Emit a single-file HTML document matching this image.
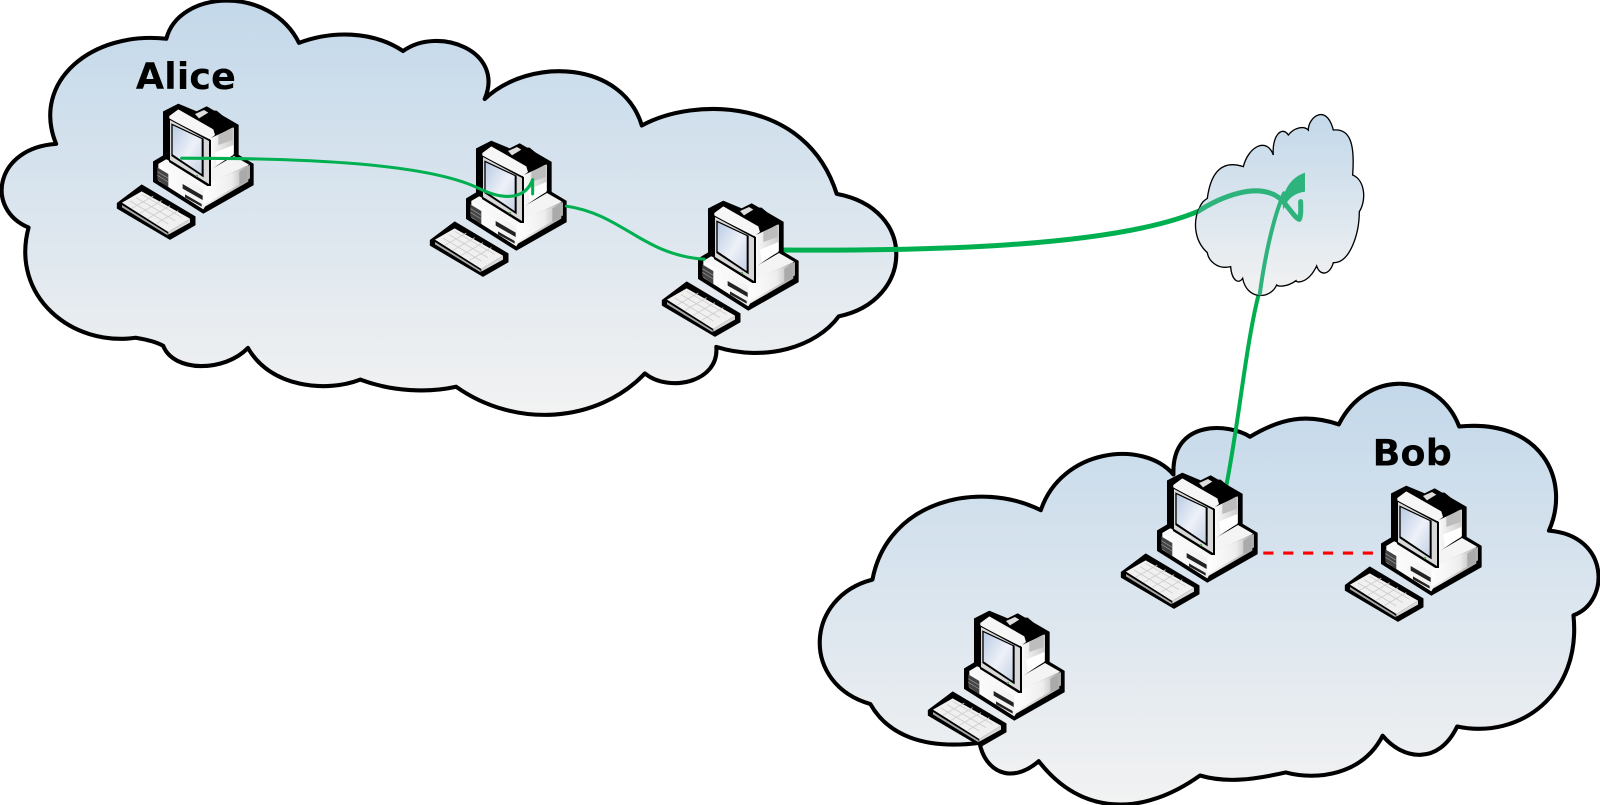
<!DOCTYPE html>
<html><head><meta charset="utf-8"><style>
html,body{margin:0;padding:0;background:#fff;width:1600px;height:805px;overflow:hidden}
svg{display:block}
</style></head><body>
<svg width="1600" height="805" viewBox="0 0 1600 805" xmlns="http://www.w3.org/2000/svg">
<defs>
<linearGradient id="a" x1="0" y1="0" x2="0" y2="1"><stop offset="0" stop-color="#c3d8ea"/><stop offset="1" stop-color="#f2f2f2"/></linearGradient>
<linearGradient id="scr" x1="0" y1="0" x2="1" y2="1"><stop offset="0" stop-color="#b9cbe4"/><stop offset=".55" stop-color="#eef1f8"/><stop offset="1" stop-color="#c5d2e6"/></linearGradient>
<linearGradient id="tw" x1="0" y1="0" x2="1" y2="0"><stop offset="0" stop-color="#fff"/><stop offset="1" stop-color="#ccc"/></linearGradient>
<linearGradient id="bs" x1="0" y1="0" x2="1" y2="0"><stop offset="0" stop-color="#fff"/><stop offset=".6" stop-color="#eee"/><stop offset="1" stop-color="#a8a8a8"/></linearGradient>
<path id="sc" d="M118 325C125 305 135 300 142 295C150 235 175 175 250 200C265 140 320 110 340 165C335 110 365 75 385 105C400 85 430 75 445 90C445 50 500 10 520 90C570 85 585 130 578 225C615 240 620 300 598 335C598 400 570 490 520 488C510 525 480 530 470 498C445 550 410 550 408 542C380 562 355 560 350 555C330 600 260 600 248 535C235 555 215 540 212 500C170 510 145 480 142 458C100 420 100 360 118 325Z"/>
<clipPath id="cc"><use href="#sc"/></clipPath>
<g id="pc" transform="scale(.3333)">
<!-- keyboard -->
<path d="M52 340L125 285L285 380V405L210 448L52 355Z" fill="#000" stroke="#000" stroke-width="3" stroke-linejoin="round"/>
<path d="M66 338L125 304L270 386L205 426Z" fill="#f0f0f0"/>
<path d="M66 345L203 430L203 436L66 352Z" fill="#aaa"/>
<path d="M205 426L270 386V398L205 434Z" fill="#d8d8d8"/>
<path d="M90 333L205 402M108 323L225 392M125 313L245 382M95 355L160 318M120 370L185 332M145 385L210 347M170 400L235 362" stroke="#ccc" stroke-width="2.5" fill="none"/>
<!-- silhouette -->
<path d="M190 65L235 42L290 65L320 50L415 105V195L460 222V285L310 370L160 275V215L190 197Z" fill="#000" stroke="#000" stroke-width="2" stroke-linejoin="round"/>
<!-- base -->
<path d="M175 222L200 208L318 283L445 222V275L315 350L310 358L175 272Z" fill="url(#bs)"/>
<path d="M175 222L198 208L318 280L310 298Z" fill="#f8f8f8"/>
<path d="M172 232L205 252V292L172 268Z" fill="#444"/>
<path d="M172 245L205 265M172 256L205 276" stroke="#999" stroke-width="2"/>
<path d="M310 298V345L450 265V225L320 282Z" fill="url(#bs)"/>
<path d="M322 245L402 198L447 224L318 284Z" fill="#f4f4f4"/>
<path d="M248 282L308 317V330L248 296ZM255 313L305 342V350L255 322Z" fill="#222"/>
<path d="M418 245L442 230V272L418 285Z" fill="#aaa"/>
<!-- tower -->
<path d="M330 145L402 112V192L325 245Z" fill="url(#tw)"/>
<path d="M355 135L398 112V150L355 165Z" fill="#bdbdbd"/>
<path d="M345 188L400 165V195L350 225Z" fill="#fff"/>
<path d="M315 62L350 62L405 108L345 130L300 90Z" fill="#000"/>
<path d="M208 78L235 58L340 118L345 135L325 150L208 85Z" fill="#f6f6f6"/>
<path d="M285 72L312 60L325 68L297 85Z" fill="#ddd"/>
<!-- monitor -->
<path d="M207 86L333 150V288H322L207 216Z" fill="#000"/>
<path d="M210 90L327 153V282L210 210Z" fill="#d8d8d8"/>
<path d="M214 100L311 146V262L214 198Z" fill="#000"/>
<path d="M218 106L305 147V252L218 193Z" fill="url(#scr)"/>
<circle cx="291" cy="258" r="3.5" fill="#5a9e5a"/>
</g>
</defs>
<rect width="1600" height="805" fill="#fff"/>
<g transform="scale(1.0204)">
<path d="M293 42C265 -15 175 -10 163 38C90 30 30 80 55 141C-5 145 -15 205 28 223C10 290 70 340 133 331C145 333 155 336 160 339C170 365 220 365 243 341C265 380 320 385 353 372C385 384 420 385 447 379C505 420 585 415 632 366C655 385 705 375 702 340C750 355 800 340 822 310C895 295 900 205 820 190C790 95 680 95 629 123C610 60 520 55 475 97C495 50 430 25 395 50C365 30 325 30 293 42Z" fill="url(#a)" stroke="#000" stroke-width="4" stroke-linejoin="round"/>
<path d="M1225 428C1205 415 1148 410 1150 465C1120 430 1040 440 1020 500C960 470 870 490 855 568C789 585 784 670 853 690C870 720 905 735 960 728C965 755 990 770 1018 746C1060 800 1120 800 1176 760C1200 767 1225 765 1260 757C1290 765 1335 760 1355 721C1375 745 1410 750 1428 712C1490 725 1550 680 1542 603C1578 590 1578 525 1518 520C1540 470 1510 410 1430 418C1410 365 1340 360 1312 416C1280 405 1255 410 1225 428Z" fill="url(#a)" stroke="#000" stroke-width="4" stroke-linejoin="round"/>
</g>
<g fill="none" stroke="#00b050" stroke-linecap="round">
<path d="M1225 492C1238 430 1245 350 1258 297" stroke-width="4"/>
<path d="M781 250C918 251 1112 248 1199 211" stroke-width="5"/>
</g>
<g transform="translate(1160,100) scale(.3333)">
<use href="#sc" fill="url(#a)" stroke="#000" stroke-width="4"/>
<g clip-path="url(#cc)" fill="none" stroke="#2fb37c" stroke-linecap="round" stroke-linejoin="round">
<path d="M105 340C180 290 300 240 365 300C385 320 405 355 418 358C424 345 422 325 422 305" stroke-width="15"/>
<path d="M297 600C312 480 340 350 372 280" stroke-width="12"/>
<path d="M435 218L435 275C400 280 380 300 370 330C362 285 385 235 435 218Z" fill="#2fb37c" stroke="none"/>
</g>
</g>
<use href="#pc" transform="translate(100,90)"/>
<use href="#pc" transform="translate(413,127)"/>
<use href="#pc" transform="translate(645,187)"/>
<use href="#pc" transform="translate(1104,459)"/>
<use href="#pc" transform="translate(1328,472)"/>
<use href="#pc" transform="translate(911,597)"/>
<g transform="scale(1.0204)">
<g stroke="#00b050" fill="none" stroke-linecap="round" stroke-linejoin="round">
<path d="M178 155C300 155 420 160 470 185C495 197 515 195 522 176V190" stroke-width="3"/>
<path d="M555 202C610 210 630 250 690 254" stroke-width="3"/>
</g>
<path d="M1238 542H1350" stroke="#f00" stroke-width="3" stroke-dasharray="10 9.5" fill="none"/>
<g font-family="'DejaVu Sans',sans-serif" font-weight="700" font-size="36" fill="#000">
<text x="133" y="87">Alice</text>
<text x="1345" y="456">Bob</text>
</g>
</g>
</svg>
</body></html>
